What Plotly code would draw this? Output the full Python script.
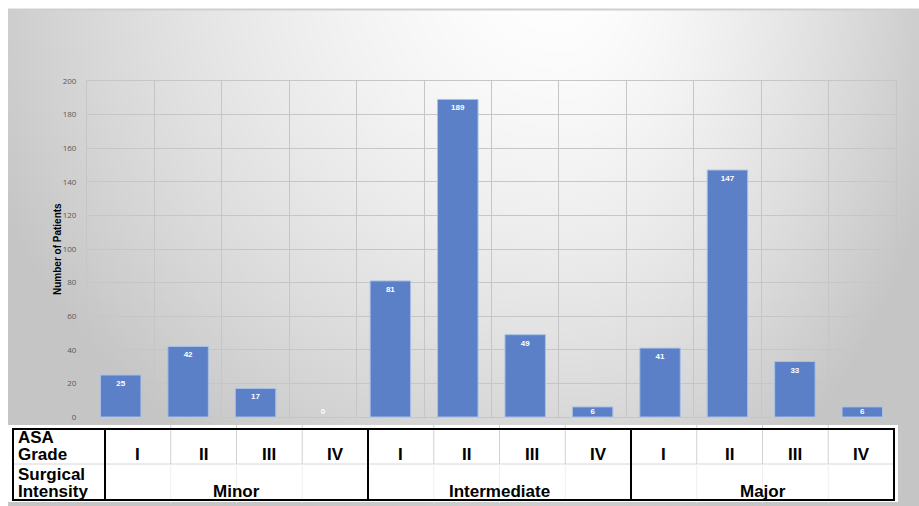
import base64
import math
import struct
import zlib

import plotly.graph_objects as go

# ---- data -------------------------------------------------------------
grades = ["I", "II", "III", "IV"]
intensities = ["Minor", "Intermediate", "Major"]
minor_counts = [25, 42, 17, 0]
intermediate_counts = [81, 189, 49, 6]
major_counts = [41, 147, 33, 6]
y_ticks = [0, 20, 40, 60, 80, 100, 120, 140, 160, 180, 200]

counts_by_intensity = [minor_counts, intermediate_counts, major_counts]
categories = [f"{s} {g}" for s in intensities for g in grades]
values = [v for group in counts_by_intensity for v in group]

# ---- page geometry (pixels) ------------------------------------------
W, H = 919, 506
PLOT_L, PLOT_R, PLOT_T, PLOT_B = 87, 896, 81, 417
Y_MAX = 200
UNITS_PER_PX = Y_MAX / (PLOT_B - PLOT_T)


def fx(px):
    return px / W


def fy(py):
    return (H - py) / H


# ---- soft grey backdrop rendered as a tiny PNG ---------------------------
def backdrop_png(w, h, scale):
    rows = []
    for j in range(h):
        py = 9 + j * scale
        row = bytearray([0])
        for i in range(w):
            px = 8 + i * scale
            ax = 620.0 if px < 560 else 400.0
            dx = (px - 560) / ax
            dy = (py + 40) / 600.0
            d = min(1.0, math.hypot(dx, dy))
            b = int(round(255 - 58 * d ** 1.5))
            row += bytes((b, b, b))
        rows.append(bytes(row))
    raw = b"".join(rows)

    def chunk(tag, data):
        c = struct.pack(">I", len(data)) + tag + data
        return c + struct.pack(">I", zlib.crc32(tag + data) & 0xFFFFFFFF)

    png = b"\x89PNG\r\n\x1a\n"
    png += chunk(b"IHDR", struct.pack(">IIBBBBB", w, h, 8, 2, 0, 0, 0))
    png += chunk(b"IDAT", zlib.compress(raw, 9))
    png += chunk(b"IEND", b"")
    return "data:image/png;base64," + base64.b64encode(png).decode()


SCALE = 4
bg_w = (W - 8) // SCALE + 1
bg_h = (H - 9) // SCALE + 1
backdrop = backdrop_png(bg_w, bg_h, SCALE)

# ---- figure -------------------------------------------------------------
fig = go.Figure()
fig.add_trace(
    go.Bar(
        x=categories,
        y=values,
        marker=dict(
            color="#5b80c8",
            line=dict(color="#a9c0e6", width=[1 if v > 0 else 0 for v in values]),
        ),
        width=0.6,
        hoverinfo="skip",
    )
)

# value labels sit just inside the top of each bar (kept above the baseline)
label_y = [max(v - 9 * UNITS_PER_PX, 5 * UNITS_PER_PX) for v in values]
fig.add_trace(
    go.Scatter(
        x=categories,
        y=label_y,
        mode="text",
        text=[f"<b>{v}</b>" for v in values],
        textposition="middle center",
        textfont=dict(family="Liberation Sans", size=8, color="white"),
        hoverinfo="skip",
    )
)

grid = "#c6c6c6"
fig.update_layout(
    width=W,
    height=H,
    margin=dict(l=0, r=0, t=0, b=0),
    paper_bgcolor="white",
    plot_bgcolor="rgba(0,0,0,0)",
    showlegend=False,
    xaxis=dict(
        domain=[fx(PLOT_L), fx(PLOT_R)],
        type="category",
        range=[-0.5, len(categories) - 0.5],
        tickson="boundaries",
        showticklabels=False,
        ticks="",
        showgrid=True,
        gridcolor=grid,
        gridwidth=1,
        showline=True,
        linecolor=grid,
        mirror=True,
        automargin=False,
    ),
    yaxis=dict(
        domain=[fy(PLOT_B), fy(PLOT_T)],
        range=[0, Y_MAX],
        tickvals=y_ticks,
        showgrid=True,
        gridcolor=grid,
        gridwidth=1,
        zeroline=False,
        showline=True,
        linecolor=grid,
        mirror=True,
        ticks="",
        ticklabelstandoff=8,
        tickfont=dict(family="Open Sans", size=8, color="#595959"),
        automargin=False,
    ),
    images=[
        dict(
            source=backdrop,
            xref="paper",
            yref="paper",
            x=fx(8),
            y=fy(9),
            sizex=fx(W) - fx(8),
            sizey=fy(9) - fy(H),
            xanchor="left",
            yanchor="top",
            sizing="stretch",
            layer="below",
        )
    ],
)

# y-axis title
fig.add_annotation(
    text="<b>Number of Patients</b>",
    xref="paper", yref="paper",
    x=fx(57), y=fy(249),
    xanchor="center", yanchor="middle",
    textangle=-90,
    showarrow=False,
    font=dict(family="Liberation Sans", size=10, color="black"),
)

# top edge of the backdrop
fig.add_shape(type="line", xref="paper", yref="paper",
              x0=fx(8), x1=1, y0=fy(9.5), y1=fy(9.5),
              line=dict(color="#cfcfcf", width=2))

# ---- table under the chart ------------------------------------------------
T_L, T_R, T_T, T_B, T_MID = 13, 894, 429, 500, 464
LABEL_R = 105
cell_w = (T_R - LABEL_R) / (len(intensities) * len(grades))

fig.add_shape(type="rect", xref="paper", yref="paper",
              x0=fx(8), x1=fx(898), y0=fy(425), y1=fy(502),
              fillcolor="white", line=dict(width=0), layer="above")

fig.add_shape(type="line", xref="paper", yref="paper",
              x0=fx(T_L), x1=fx(T_R), y0=fy(T_MID), y1=fy(T_MID),
              line=dict(color="#d6d6d6", width=1), layer="above")
for k in range(1, len(intensities) * len(grades)):
    if k % len(grades) == 0:
        continue
    xk = LABEL_R + k * cell_w
    fig.add_shape(type="line", xref="paper", yref="paper",
                  x0=fx(xk), x1=fx(xk), y0=fy(425), y1=fy(T_MID),
                  line=dict(color="#d2d2d2", width=1), layer="above")
    fig.add_shape(type="line", xref="paper", yref="paper",
                  x0=fx(xk), x1=fx(xk), y0=fy(T_MID), y1=fy(503),
                  line=dict(color="#efefef", width=1), layer="above")

fig.add_shape(type="rect", xref="paper", yref="paper",
              x0=fx(T_L), x1=fx(T_R), y0=fy(T_T), y1=fy(T_B),
              line=dict(color="black", width=2), layer="above")
for g in range(len(intensities)):
    xg = LABEL_R + g * len(grades) * cell_w
    fig.add_shape(type="line", xref="paper", yref="paper",
                  x0=fx(xg), x1=fx(xg), y0=fy(T_T), y1=fy(T_B),
                  line=dict(color="black", width=2), layer="above")


def cell_text(text, px, py, anchor="center", size=17):
    fig.add_annotation(text=text, xref="paper", yref="paper",
                       x=fx(px), y=fy(py), xanchor=anchor, yanchor="middle",
                       align="left" if anchor == "left" else "center",
                       showarrow=False,
                       font=dict(family="Liberation Sans", size=size,
                                 color="black"))


def tight_lines(*lines):
    # glyphs at 17px while the base size of 13px sets a ~17px line pitch
    return "<br>".join(
        f"<b><span style='font-size:17px'>{ln}</span></b>" for ln in lines)


# two-line row headings
cell_text(tight_lines("ASA", "Grade"), 16, 445.5, "left", 13)
cell_text(tight_lines("Surgical", "Intensity"), 16, 482.5, "left", 13)

for k, cat in enumerate(categories):
    grade = grades[k % len(grades)]
    cell_text(f"<b>{grade}</b>", LABEL_R + (k + 0.5) * cell_w, 454)

for g, name in enumerate(intensities):
    center = LABEL_R + (g + 0.5) * len(grades) * cell_w
    cell_text(f"<b>{name}</b>", center, 491)

fig.write_html("out.html")
